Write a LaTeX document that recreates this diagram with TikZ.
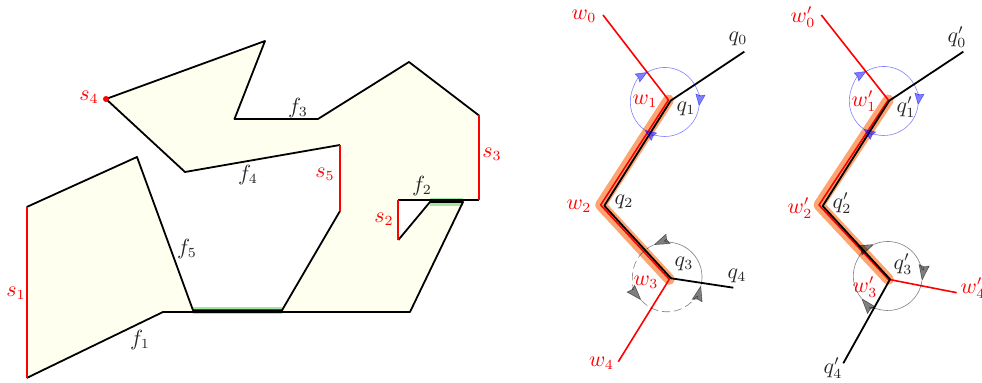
\documentclass[tikz,border=0pt]{standalone}
\usepackage{xcolor}
\usepackage{amsmath}
\usepackage{tikz}
\usetikzlibrary{arrows.meta}
\definecolor{facefill}{RGB}{255,255,240}
\definecolor{overlapgreen}{RGB}{160,232,160}
\definecolor{chainorange}{RGB}{252,165,115}
\tikzset{
  edge/.style     ={line width=0.9pt, line join=round, draw=black},
  slit/.style     ={line width=0.9pt, draw=red},
  overlap/.style  ={line width=3.6pt, draw=overlapgreen},
  chain/.style    ={line width=5.5pt, draw=chainorange, line cap=round, line join=round},
  wpath/.style    ={line width=0.8pt, line join=round, draw=red},
  qpath/.style    ={line width=0.9pt, line join=round, draw=black},
  turnblue/.style ={line width=0.3pt, draw=blue, opacity=0.5,
                    -{Stealth[length=6pt,width=5pt,inset=0.6pt,fill=blue]}},
  turngray/.style ={line width=0.3pt, draw=black, opacity=0.5,
                    -{Stealth[length=8pt,width=5.5pt,inset=0.8pt,fill=black]}},
  redlabel/.style ={text=red, inner sep=0pt, font=\fontsize{10.5}{13}\selectfont},
  blklabel/.style ={text=black!85, inner sep=0pt, font=\fontsize{10.5}{13}\selectfont},
}
\begin{document}
\begin{tikzpicture}[x=0.5pt,y=0.5pt]
\path[use as bounding box,clip] (0,0) rectangle (982,383);

% the unfolded polygon
\foreach \nm/\x/\y in {a/26.7/176,b/26.7/5,c/163/71,d/410/71,e/463/181,f/430/181,g/398.3/143,
    h/398.3/183,i/479/183,j/479/267.5,k/409/321,l/318/264,m/234.5/264,n/265/342,o/106/284,
    p/185/211,q/340/238,r/340/172,s/282/72.7,t/193/72.7,u/137/226}
  \coordinate (\nm) at (\x,\y);
\fill[facefill] (a) -- (b) -- (c) -- (d) -- (e) -- (f) -- (g) -- (h) -- (i) -- (j) -- (k) -- (l)
  -- (m) -- (n) -- (o) -- (p) -- (q) -- (r) -- (s) -- (t) -- (u) -- cycle;
\draw[overlap,yshift=-0.2pt] (t) -- (s);
\draw[overlap,yshift=0.4pt] (f) -- (e);
\draw[edge] (b) -- (c) -- (d) -- (e) -- (f) -- (g);
\draw[edge] (h) -- (i);
\draw[edge] (j) -- (k) -- (l) -- (m) -- (n) -- (o) -- (p) -- (q);
\draw[edge] (r) -- (s) -- (t) -- (u) -- (a);
\foreach \x/\y in {a/b,g/h,i/j,q/r} \draw[slit] (\x) -- (\y);
\fill[red] (o) circle (3);

\foreach \nm/\x/\y/\txt in {ls1/16/90/s_1,ls2/384/164/s_2,ls3/492/229/s_3,ls4/89/286/s_4,ls5/325/209/s_5}
  \node[redlabel] (\nm) at (\x,\y) {$\txt$};
\foreach \nm/\x/\y/\txt in {lf1/140/43/f_1,lf2/422/197/f_2,lf3/298/275/f_3,lf4/248/208/f_4,lf5/187/134/f_5}
  \node[blklabel] (\nm) at (\x,\y) {$\txt$};

% first pair of chains
\foreach \nm/\x/\y in {w0/603/368,w1/668.5/283,w2/600.7/178,w3/669.3/103.7,w4/618.3/21.3,
    q0/744.3/331.3,q1/670.7/282.3,q2/604.3/177.3,q3/671/104.7,q4/733.3/95.3}
  \coordinate (\nm) at (\x,\y);
\draw[chain] (w1) -- (w2) -- (w3);
\draw[wpath] (w0) -- (w1) -- (w2) -- (w3) -- (w4);
\draw[qpath] (q0) -- (q1) -- (q2) -- (q3) -- (q4);

% second pair of chains
\foreach \nm/\x/\y in {v0/821.3/368,v1/888.3/283,v2/819/178,v3/888.3/103.7,v4/956.7/90.3,
    r0/963.3/331.3,r1/889.3/282.3,r2/822.7/177,r3/890/103.7,r4/843.3/19.7}
  \coordinate (\nm) at (\x,\y);
\draw[chain] (v1) -- (v2) -- (v3);
\draw[wpath] (v0) -- (v1) -- (v2) -- (v3) -- (v4);
\draw[qpath] (r0) -- (r1) -- (r2) -- (r3) -- (r4);

% turning circles
\coordinate (cb1) at (664.8,281);
\coordinate (cb2) at (883.8,282);
\coordinate (cg1) at (667.2,106);
\coordinate (cg2) at (887.8,107);
\foreach \c in {cb1,cb2}
  \foreach \a/\b in {120/-7,-7/-126,-126/-240}
    \draw[turnblue] (\c) ++(\a:34.5) arc[start angle=\a,end angle=\b,radius=34.5];
\draw[turngray] (cg1) ++(-14:34.8) arc[start angle=-14,end angle=113,radius=34.8];
\foreach \a/\b in {113/222,222/346}
  \draw[turngray,dash pattern=on 4pt off 2pt] (cg1) ++(\a:34.8) arc[start angle=\a,end angle=\b,radius=34.8];
\foreach \a/\b in {113/-8,-8/-140,-140/-247}
  \draw[turngray] (cg2) ++(\a:34.5) arc[start angle=\a,end angle=\b,radius=34.5];

\foreach \nm/\x/\y/\txt in {lw0/584/367/w_0,lw1/645/282/w_1,lw2/579/177/w_2,lw3/646/101/w_3,lw4/601.5/20/w_4,
    lv0/803/366/w'_0,lv1/864/282/w'_1,lv2/800/175/w'_2,lv3/865/96/w'_3,lv4/973/95/w'_4}
  \node[redlabel] (\nm) at (\x,\y) {$\txt$};
\foreach \nm/\x/\y/\txt in {lq0/738/344/q_0,lq1/686/274/q_1,lq2/624/181/q_2,lq3/684/119/q_3,lq4/737/107/q_4,
    lr0/957/346/q'_0,lr1/906/276/q'_1,lr2/842/180/q'_2,lr3/903/119/q'_3,lr4/833/15/q'_4}
  \node[blklabel] (\nm) at (\x,\y) {$\txt$};
\end{tikzpicture}
\end{document}
